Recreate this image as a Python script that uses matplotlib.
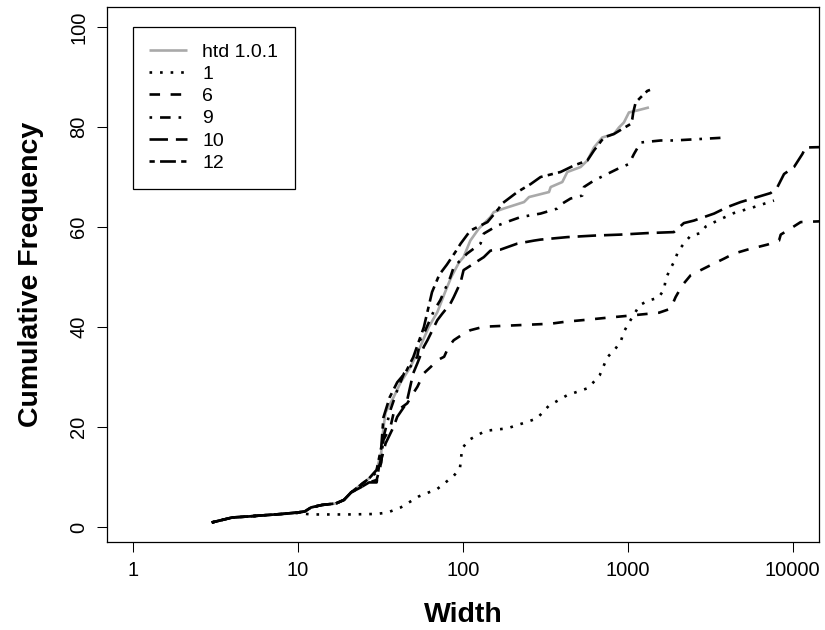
import matplotlib
matplotlib.use("Agg")
import matplotlib.pyplot as plt

plt.rcParams['font.family'] = ['Liberation Sans', 'DejaVu Sans']

labels = ["htd 1.0.1", "1", "6", "9", "10", "12"]
x_ticks = [1, 10, 100, 1000, 10000]
x_ticklabels = ["1", "10", "100", "1000", "10000"]
y_ticks = [0, 20, 40, 60, 80, 100]

htd_x = [3, 4, 5, 6, 8, 10, 11, 12, 14, 17, 19, 21, 24, 27, 30, 32, 33, 34, 38, 42, 48, 55, 62, 70,
         78, 85, 95, 101, 111, 125, 147, 154, 177, 235, 252, 333, 341, 401, 430, 518, 569, 624,
         701, 825, 885, 948, 1017, 1143, 1345]
htd_y = [1, 2, 2.2, 2.4, 2.7, 3.0, 3.2, 4.0, 4.5, 4.8, 5.5, 7.0, 8.5, 9.8, 11.5, 15, 20, 23, 26, 29,
         32, 36, 40, 43, 47, 50, 53, 54, 57.3, 59.7, 62, 63, 63.7, 65, 66, 67, 68, 69, 71, 72, 73.3,
         75.9, 77.9, 78.6, 79.9, 80.9, 82.9, 83.3, 83.9]

s1_x = [3, 4, 5, 6, 8, 10, 12, 20, 30, 35, 42, 54, 70, 88, 96, 99, 109, 137, 186, 246, 282, 332,
        428, 569, 615, 676, 752, 837, 906, 948, 1017, 1181, 1327, 1535, 1660, 1700, 1800, 1935,
        2020, 2215, 2410, 2770, 2970, 3500, 4400, 5830, 7710]
s1_y = [1, 2, 2.2, 2.4, 2.7, 2.9, 2.6, 2.6, 2.7, 3.0, 4.0, 6.2, 7.7, 10.3, 11.8, 15.8, 17.5, 19.3,
        19.8, 21.1, 21.8, 24.3, 26.4, 27.8, 28.9, 30.4, 34, 35.6, 37.1, 39.1, 40.9, 44.4, 45.3,
        45.9, 47.5, 49.6, 51.5, 53.4, 55.2, 56.9, 58.3, 58.8, 60.1, 61.3, 62.8, 64, 65.3]

s6_x = [3, 4, 5, 6, 8, 10, 11, 12, 14, 17, 19, 21, 24, 27, 30, 32, 33, 36.4, 38, 46, 50, 53, 58,
        64, 70, 77, 82, 88, 101, 111, 134, 214, 341, 420, 569, 752, 1017, 1345, 1548, 1820, 1950,
        2145, 2410, 3185, 3840, 4400, 5320, 7030, 8270, 8470, 9290, 11190, 16000]
s6_y = [1, 2, 2.2, 2.4, 2.7, 3.0, 3.2, 4.0, 4.5, 4.8, 5.5, 7.0, 8.0, 9.0, 9.5, 13, 17.5, 20.1,
        22.8, 24.8, 26.8, 28.1, 30.8, 32.1, 33.4, 34.1, 36.1, 37.4, 38.7, 39.4, 40.1, 40.4, 40.7,
        41.1, 41.5, 41.9, 42.3, 42.7, 42.9, 43.7, 46, 48.4, 50.4, 52.4, 53.7, 54.7, 55.5, 56.5,
        57.3, 58.5, 59.3, 61, 61.2]

s9_x = [3, 4, 5, 6, 8, 10, 11, 12, 14, 17, 19, 21, 24, 27, 30, 31.6, 33, 36.4, 40, 44, 48, 53, 55,
        58, 67, 73, 84, 88, 106, 128, 134, 162, 195, 224, 296, 374, 401, 450, 530, 542, 624, 865,
        1017, 1091, 1197, 1585, 1905, 2770, 4020]
s9_y = [1, 2, 2.2, 2.4, 2.7, 3.0, 3.2, 4.0, 4.5, 4.8, 5.5, 7.0, 8.5, 9.8, 11.0, 12.2, 18, 23.5,
        27.4, 30.8, 32.1, 34.1, 37.4, 38.7, 43.4, 45.4, 50, 52, 54.7, 56.7, 58.7, 60.3, 61.3, 62,
        62.7, 63.7, 64.7, 65.7, 66.3, 68, 69.3, 71.6, 72.6, 74.6, 76.9, 77.3, 77.3, 77.6, 77.9]

s10_x = [3, 4, 5, 6, 8, 10, 11, 12, 14, 17, 19, 21, 24, 27, 30, 31, 32.4, 34, 38, 40, 44, 46, 50,
         53, 58, 61, 70, 75, 84, 88, 97, 101, 134, 147, 169, 214, 270, 296, 430, 624, 906, 1315,
         1905, 2190, 2520, 3340, 4020, 4840, 7360, 8090, 8870, 10200, 11460, 12000, 16000]
s10_y = [1, 2, 2.2, 2.4, 2.7, 3.0, 3.2, 4.0, 4.5, 4.8, 5.5, 7.0, 8.0, 9.0, 9.0, 12.2, 14.2, 16.8,
         20.1, 22.1, 24.1, 25.5, 30.8, 32.8, 36.1, 37.4, 41.4, 42.7, 44.7, 46, 49, 51.4, 54, 55.3,
         55.5, 56.7, 57.3, 57.5, 58, 58.3, 58.5, 58.8, 59, 60.8, 61.3, 62.7, 64, 65, 66.8, 68,
         70.6, 72, 74.6, 75.9, 76]

s12_x = [3, 4, 5, 6, 8, 10, 11, 12, 14, 17, 19, 21, 24, 27, 30, 32, 33, 36, 40, 45, 50, 58, 65,
         72, 80, 90, 97, 111, 141, 165, 173, 214, 258, 296, 391, 472, 569, 624, 717, 825, 1042,
         1066, 1080, 1117, 1197, 1315, 1365]
s12_y = [1, 2, 2.2, 2.4, 2.7, 3.0, 3.2, 4.0, 4.5, 4.8, 5.5, 7.0, 8.5, 9.8, 11.5, 16, 22, 26, 29,
         31, 34, 40, 47, 50.5, 52.5, 55, 56.7, 59.3, 61, 63.7, 64.7, 67, 68.6, 70, 71, 72.3, 73.3,
         75.3, 77.9, 78.6, 80.6, 81.6, 82.9, 84.9, 85.9, 87.2, 87.4]

series_x = [htd_x, s1_x, s6_x, s9_x, s10_x, s12_x]
series_y = [htd_y, s1_y, s6_y, s9_y, s10_y, s12_y]
colors = ["#A9A9A9", "black", "black", "black", "black", "black"]
# R line types: solid, dotted "13", dashed "44", dotdash "1343", longdash "73", twodash "2262"
dashes = [None, (1, 3), (4, 4), (1, 3, 4, 3), (7, 3), (2, 2, 6, 2)]

fig = plt.figure(figsize=(8.25, 6.3), dpi=100)
ax = fig.add_axes([106.7 / 825, 1 - 542.3 / 630, (819 - 106.7) / 825, (542.3 - 7) / 630])

lw = 1.9
for xs, ys, lab, col, d in zip(series_x, series_y, labels, colors, dashes):
    line, = ax.plot(xs, ys, color=col, lw=lw, label=lab,
                    solid_capstyle='butt', dash_capstyle='butt', solid_joinstyle='round')
    if d is not None:
        line.set_dashes(d)

ax.set_xscale('log')
ax.set_xlim(10 ** -0.16, 10 ** 4.16)
ax.set_ylim(-2.96, 103.96)
ax.set_xticks(x_ticks)
ax.set_xticklabels(x_ticklabels)
ax.xaxis.set_minor_locator(matplotlib.ticker.NullLocator())
ax.set_yticks(y_ticks)
ax.tick_params(axis='both', direction='out', length=7.2, width=0.75, labelsize=14.5, color='black')
ax.tick_params(axis='x', pad=6)
ax.tick_params(axis='y', pad=6)
for t in ax.get_yticklabels():
    t.set_rotation(90)
    t.set_verticalalignment('center')
for sp in ax.spines.values():
    sp.set_linewidth(0.9)
    sp.set_color('black')

ax.set_xlabel("Width", fontsize=20.5, fontweight='bold', labelpad=16)
ax.set_ylabel("Cumulative Frequency", fontsize=20.5, fontweight='bold', labelpad=18)

leg = ax.legend(loc='upper left', bbox_to_anchor=((132.7 - 106.7) / (819 - 106.7), 1 - (26.5 - 7) / (542.3 - 7)),
                borderaxespad=0, fontsize=14, handlelength=1.95, handletextpad=0.77,
                borderpad=0.85, labelspacing=0.24, fancybox=False, framealpha=1,
                edgecolor='black')
leg.get_frame().set_linewidth(0.9)

fig.savefig("out.png", dpi=100)
